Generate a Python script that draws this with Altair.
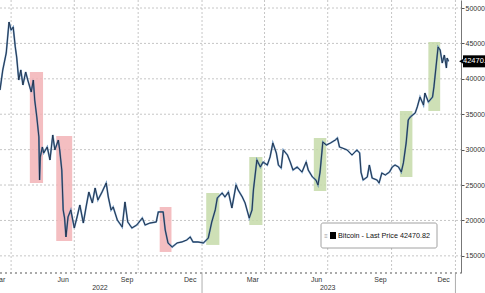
import altair as alt
import pandas as pd

# ---- price series ----
dates = [
    "2022-03-16", "2022-03-20", "2022-03-25", "2022-03-29", "2022-04-01", "2022-04-04",
    "2022-04-07", "2022-04-09", "2022-04-12", "2022-04-15", "2022-04-18", "2022-04-22",
    "2022-04-25", "2022-04-30", "2022-05-03", "2022-05-05", "2022-05-08", "2022-05-11",
    "2022-05-12", "2022-05-13", "2022-05-16", "2022-05-18", "2022-05-23", "2022-05-27",
    "2022-05-31", "2022-06-03", "2022-06-08", "2022-06-10", "2022-06-13", "2022-06-15",
    "2022-06-17", "2022-06-19", "2022-06-22", "2022-06-26", "2022-07-01", "2022-07-05",
    "2022-07-09", "2022-07-14", "2022-07-18", "2022-07-22", "2022-07-27", "2022-07-31",
    "2022-08-04", "2022-08-10", "2022-08-16", "2022-08-19", "2022-08-23", "2022-08-26",
    "2022-09-01", "2022-09-08", "2022-09-12", "2022-09-16", "2022-09-22", "2022-09-29",
    "2022-10-07", "2022-10-11", "2022-10-18", "2022-10-27", "2022-10-30", "2022-11-06",
    "2022-11-09", "2022-11-13", "2022-11-19", "2022-11-26", "2022-12-03", "2022-12-10",
    "2022-12-15", "2022-12-19", "2022-12-26", "2023-01-03", "2023-01-10", "2023-01-15",
    "2023-01-20", "2023-01-23", "2023-01-30", "2023-02-03", "2023-02-08", "2023-02-13",
    "2023-02-19", "2023-02-22", "2023-02-28", "2023-03-04", "2023-03-10", "2023-03-14",
    "2023-03-16", "2023-03-21", "2023-03-26", "2023-03-30", "2023-04-05", "2023-04-09",
    "2023-04-13", "2023-04-18", "2023-04-21", "2023-04-25", "2023-04-28", "2023-05-04",
    "2023-05-08", "2023-05-12", "2023-05-18", "2023-05-25", "2023-05-31", "2023-06-03",
    "2023-06-09", "2023-06-14", "2023-06-17", "2023-06-20", "2023-06-24", "2023-06-29",
    "2023-07-05", "2023-07-12", "2023-07-15", "2023-07-18", "2023-07-22", "2023-07-29",
    "2023-08-05", "2023-08-12", "2023-08-16", "2023-08-18", "2023-08-21", "2023-08-27",
    "2023-08-30", "2023-09-03", "2023-09-10", "2023-09-13", "2023-09-17", "2023-09-22",
    "2023-09-28", "2023-10-02", "2023-10-06", "2023-10-11", "2023-10-15", "2023-10-18",
    "2023-10-22", "2023-10-25", "2023-10-28", "2023-11-04", "2023-11-07", "2023-11-11",
    "2023-11-16", "2023-11-18", "2023-11-23", "2023-11-29", "2023-12-01", "2023-12-04",
    "2023-12-07", "2023-12-10", "2023-12-13", "2023-12-16", "2023-12-19", "2023-12-20",
    "2023-12-22",
]
prices = [
    38420, 41250, 43650, 48020, 46900, 47300,
    44500, 43080, 39830, 41250, 39130, 40960,
    39830, 38140, 39830, 37010, 34610, 31790,
    25710, 28960, 30370, 29530, 30370, 28540,
    32070, 29950, 31360, 29950, 27120, 21480,
    20350, 17670, 20490, 21480, 18940, 20490,
    22180, 19640, 21900, 24020, 22470, 24580,
    22890, 24020, 25290, 23310, 21480, 21900,
    20060, 19080, 22610, 19780, 18940, 19360,
    20350, 19360, 19640, 19780, 21200, 21200,
    18650, 16820, 16250, 16820, 16960, 17240,
    17670, 16960, 16960, 16820, 17520, 19780,
    21480, 23170, 23880, 23310, 24020, 21760,
    25010, 24300, 23310, 22470, 20350, 21480,
    24300, 28540, 27550, 28260, 27830, 28960,
    30940, 29530, 27830, 27410, 29950, 29240,
    28260, 27120, 27550, 26840, 28260, 27120,
    26140, 25710, 25010, 26840, 31080, 30650,
    30940, 31360, 31640, 30370, 30230, 29950,
    29240, 29950, 29530, 26800, 25710, 26140,
    27830, 25990, 25710, 25290, 26700, 26420,
    26840, 27550, 27830, 27550, 26840, 28120,
    30940, 34190, 34610, 35170, 36020, 37430,
    36300, 38000, 36730, 37430, 38850, 41670,
    44490, 44070, 42230, 43360, 41530, 42940,
    42470,
]

# ---- highlighted episodes ----
box_start = ["2022-04-28", "2022-06-05", "2022-11-01", "2023-01-07",
             "2023-03-10", "2023-06-11", "2023-10-13", "2023-11-23"]
box_end = ["2022-05-17", "2022-06-28", "2022-11-18", "2023-01-26",
           "2023-03-29", "2023-06-29", "2023-10-31", "2023-12-10"]
box_low = [25290, 17100, 15550, 16540, 19360, 24160, 26140, 35460]
box_high = [40960, 31930, 21900, 23880, 28960, 31640, 35460, 45200]
box_kind = ["down", "down", "down", "up", "up", "up", "up", "up"]

# ---- axis text ----
y_ticks = [15000, 20000, 25000, 30000, 35000, 40000, 45000, 50000]
quarter_starts = ["2022-04-01", "2022-07-01", "2022-10-01", "2023-01-01",
                  "2023-04-01", "2023-07-01", "2023-10-01", "2024-01-01"]
month_label_dates = ["2022-03-15", "2022-06-15", "2022-09-15", "2022-12-15",
                     "2023-03-15", "2023-06-15", "2023-09-15", "2023-12-15"]
month_labels = ["Mar", "Jun", "Sep", "Dec", "Mar", "Jun", "Sep", "Dec"]
year_label_dates = ["2022-08-07", "2023-07-01"]
year_labels = ["2022", "2023"]
year_breaks = ["2023-01-01", "2024-01-01"]
last_price = 42470.82
legend_text = "Bitcoin - Last Price 42470.82"

W, H = 461, 273
FONT = "Liberation Sans"

price_df = pd.DataFrame({"date": dates, "price": prices})
box_df = pd.DataFrame({"start": box_start, "end": box_end, "lo": box_low,
                       "hi": box_high, "kind": box_kind})
q_df = pd.DataFrame({"date": quarter_starts})
m_df = pd.DataFrame({"date": month_label_dates, "label": month_labels})
yr_df = pd.DataFrame({"date": year_label_dates, "label": year_labels})
yb_df = pd.DataFrame({"date": year_breaks})
ytick_df = pd.DataFrame({"v": y_ticks})
last_df = pd.DataFrame({"date": [dates[-1]], "price": [last_price],
                        "label": [f"{last_price:.2f}"]})

xscale = alt.Scale(type="utc",
                   domain=[alt.DateTime(year=2022, month=3, date=16, utc=True),
                           alt.DateTime(year=2024, month=1, date=9, utc=True)])
yscale = alt.Scale(domain=[12580, 51130], nice=False, zero=False)
yaxis = alt.Axis(orient="right", values=y_ticks, tickCount=8, format="d",
                 labelFontSize=7, labelFont=FONT, labelColor="#333",
                 labelOverlap=False, labelBound=False, labelFlush=False,
                 tickColor="#555", tickSize=3, labelPadding=1,
                 domainColor="#777", grid=False, title=None)


def Y(field):
    return alt.Y(field, scale=yscale, axis=yaxis, title=None)


def X(field):
    return alt.X(field, scale=xscale, axis=None, title=None)


hgrid = alt.Chart(ytick_df).mark_rule(color="#b8b8b8", strokeDash=[2, 2],
                                      strokeWidth=0.8).encode(
    y=Y("v:Q"), x=alt.value(0), x2=alt.value(W))

vgrid = alt.Chart(q_df).mark_rule(color="#b8b8b8", strokeDash=[2, 2],
                                  strokeWidth=0.8).encode(
    x=X("date:T"), y=alt.value(0), y2=alt.value(H))

boxes = alt.Chart(box_df).mark_rect(opacity=0.85).encode(
    x=X("start:T"), x2="end:T",
    y=Y("lo:Q"), y2="hi:Q",
    color=alt.Color("kind:N", legend=None,
                    scale=alt.Scale(domain=["down", "up"],
                                    range=["#f2b3b6", "#c6dba9"])),
)

bottom = alt.Chart(q_df).mark_rule(color="#aaaaaa", strokeDash=[2, 3],
                                   strokeWidth=0.8).encode(
    x=alt.value(0), x2=alt.value(W), y=alt.value(H))

line_under = alt.Chart(price_df).mark_line(color="#4f7fb3", strokeWidth=1.8,
                                           opacity=0.8).encode(
    x=X("date:T"), y=Y("price:Q"))
line = alt.Chart(price_df).mark_line(color="#1b2d45", strokeWidth=0.9).encode(
    x=X("date:T"), y=Y("price:Q"))

months = alt.Chart(m_df).mark_text(fontSize=7, font=FONT, color="#333",
                                   baseline="middle").encode(
    x=X("date:T"), y=alt.value(280), text="label:N")
years = alt.Chart(yr_df).mark_text(fontSize=7, font=FONT, color="#333",
                                   baseline="middle").encode(
    x=X("date:T"), y=alt.value(288), text="label:N")
ybreak = alt.Chart(yb_df).mark_rule(color="#999", strokeWidth=0.8).encode(
    x=X("date:T"), y=alt.value(H), y2=alt.value(H + 20))

tag_arrow = alt.Chart(last_df).mark_point(shape="triangle-left", filled=True,
                                          color="black", opacity=1,
                                          size=45).encode(
    x=alt.value(W + 1), y=Y("price:Q"))
tag_bar = alt.Chart(last_df).mark_rule(color="black", strokeWidth=12).encode(
    x=alt.value(W + 2), x2=alt.value(W + 30), y=Y("price:Q"))
tag_text = alt.Chart(last_df).mark_text(align="left", baseline="middle",
                                        color="white", fontSize=7.5,
                                        font=FONT).encode(
    x=alt.value(W + 2), y=Y("price:Q"), text="label:N")

leg_box = alt.Chart(last_df).mark_rect(fill="white", stroke="#8a8a8a",
                                       strokeWidth=0.8, cornerRadius=2).encode(
    x=alt.value(321), x2=alt.value(437), y=alt.value(223), y2=alt.value(248))
leg_icon = alt.Chart(last_df).mark_text(text="≡", fontSize=6, color="#999",
                                        font=FONT).encode(
    x=alt.value(326), y=alt.value(236))
leg_sq = alt.Chart(last_df).mark_rect(color="black").encode(
    x=alt.value(330), x2=alt.value(336), y=alt.value(232), y2=alt.value(239))
leg_text = alt.Chart(last_df).mark_text(text=legend_text, align="left",
                                        baseline="middle", fontSize=7.2,
                                        font=FONT, color="#111").encode(
    x=alt.value(338), y=alt.value(236))

chart = alt.layer(
    hgrid, vgrid, boxes, bottom, line_under, line, months, years, ybreak,
    tag_arrow, tag_bar, tag_text, leg_box, leg_icon, leg_sq, leg_text,
).properties(
    width=W, height=H,
    autosize=alt.AutoSizeParams(type="none"),
    padding={"left": 0, "top": 0, "right": 485 - W, "bottom": 293 - H},
    background="white",
).configure_view(stroke=None)

chart.save("out.html", embed_options={"renderer": "svg", "actions": False})
